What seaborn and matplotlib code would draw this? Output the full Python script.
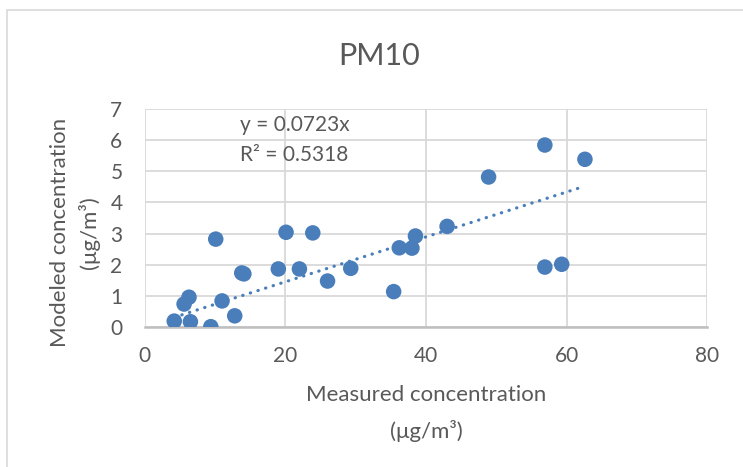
import matplotlib
matplotlib.use("Agg")
import matplotlib.pyplot as plt
from matplotlib.patches import Rectangle
import seaborn as sns
import pandas as pd

# Measured vs modeled PM10 concentrations (µg/m³)
measured = [4.2, 6.5, 9.4, 12.8, 11.0, 5.6, 6.3, 10.1, 14.1, 13.8, 19.0, 20.1,
            22.0, 23.9, 26.0, 29.3, 35.4, 36.2, 38.0, 38.5, 43.0, 48.9, 56.9,
            62.6, 56.9, 59.3]
modeled = [0.18, 0.16, 0.0, 0.35, 0.83, 0.73, 0.95, 2.82, 1.70, 1.73, 1.86, 3.04,
           1.86, 3.02, 1.47, 1.88, 1.13, 2.54, 2.53, 2.92, 3.23, 4.82, 5.85,
           5.39, 1.92, 2.01]

slope = 0.0723
r_squared = 0.5318

x_ticks = [0, 20, 40, 60, 80]
y_ticks = [0, 1, 2, 3, 4, 5, 6, 7]

df = pd.DataFrame({"measured": measured, "modeled": modeled})

sns.set_theme(style="white")
plt.rcParams["font.family"] = ["Lato", "DejaVu Sans"]

text_color = "#595959"
point_color = "#4A7EBB"
grid_color = "#D9D9D9"

fig = plt.figure(figsize=(7.43, 4.67), dpi=100)
fig.patch.set_facecolor("white")

# chart area outline (left and top edges fall inside the canvas)
fig.add_artist(Rectangle((7 / 743, -0.2), 1.5, 1.2 - 10 / 467,
                         transform=fig.transFigure, fill=False,
                         edgecolor="#D9D9D9", linewidth=1.2))

ax = fig.add_axes([144.7 / 743, 1 - 326.7 / 467, (707.3 - 144.7) / 743,
                   (326.7 - 109.3) / 467])

sns.scatterplot(data=df, x="measured", y="modeled", ax=ax, s=125,
                color=point_color, edgecolor="none", linewidth=0, zorder=3)

# linear trendline through the origin
x_lo, x_hi = min(measured), max(measured)
ax.plot([x_lo, x_hi], [slope * x_lo, slope * x_hi], color=point_color,
        linestyle=(0, (0.1, 2.4)), dash_capstyle="round", linewidth=2.3, zorder=4)

ax.set_xlim(0, 80)
ax.set_ylim(0, 7)
ax.set_xticks(x_ticks)
ax.set_yticks(y_ticks)
ax.tick_params(axis="both", length=0, labelsize=15, labelcolor=text_color)
ax.tick_params(axis="x", pad=14)
ax.tick_params(axis="y", pad=16)

ax.grid(True, color=grid_color, linewidth=1.3)
ax.set_axisbelow(True)
for side in ["top", "right", "left"]:
    ax.spines[side].set_visible(False)
ax.spines["bottom"].set_color("#BFBFBF")
ax.spines["bottom"].set_linewidth(1.8)

ax.set_xlabel("Measured concentration\n(μg/m³)", fontsize=16, color=text_color,
              linespacing=1.85)
ax.xaxis.set_label_coords(0.5, -0.268)
ax.set_ylabel("Modeled concentration\n(μg/m³)", fontsize=16, color=text_color,
              linespacing=1.45)
ax.yaxis.set_label_coords(-0.08, 0.435)

ax.text(0.169, 0.927, f"y = {slope}x", transform=ax.transAxes, fontsize=15,
        color=text_color, va="center", ha="left")
ax.text(0.169, 0.79, f"R² = {r_squared}", transform=ax.transAxes, fontsize=15,
        color=text_color, va="center", ha="left")

fig.text(379.5 / 743, 1 - 56 / 467, "PM10", fontsize=22, color=text_color,
         ha="center", va="center")

fig.savefig("out.png", dpi=100, facecolor="white")
